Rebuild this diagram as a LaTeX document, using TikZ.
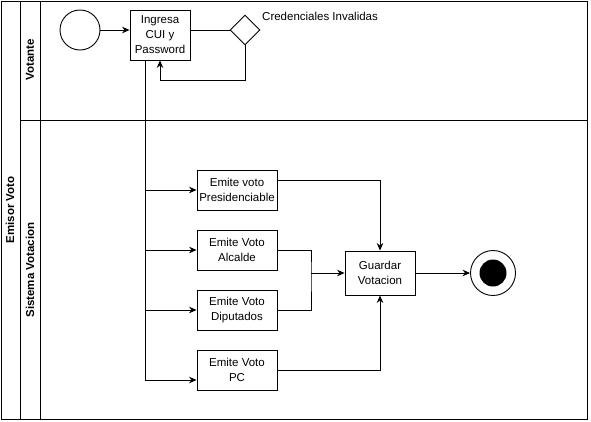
\documentclass[tikz,border=0pt]{standalone}
\usepackage{fontspec}
\setmainfont{Liberation Sans}
\usetikzlibrary{shapes.geometric,arrows.meta}

\tikzset{
  box/.style={draw,line width=0.9pt,minimum width=80pt,minimum height=40pt,align=center,inner sep=1pt,font=\fontsize{11.5}{15}\selectfont},
  flow/.style={line width=0.9pt,-{Stealth[length=7.5pt,width=6.5pt]}},
  wire/.style={line width=0.9pt},
  lanetext/.style={rotate=90,font=\bfseries\fontsize{11.5}{13.5}\selectfont}
}

\begin{document}
\begin{tikzpicture}[x=1pt,y=-1pt]
\useasboundingbox (0,0) rectangle (591,421);
% pool and lanes
\draw[wire] (1,1) rectangle (587,419);
\draw[wire] (20,1) -- (20,419);
\draw[wire] (40,1) -- (40,419);
\draw[wire] (20,120) -- (587,120);
\node[lanetext] (pool) at (10,210) {Emisor Voto};
\node[lanetext] (votante) at (30,60) {Votante};
\node[lanetext] (sistema) at (30,270) {Sistema Votacion};
% votante lane
\node[draw,wire,circle,minimum size=40pt] (start) at (80,30) {};
\node[box,minimum width=60pt,minimum height=50pt] (ingresa) at (160,35) {Ingresa\\CUI y\\Password};
\node[draw,wire,diamond,minimum width=30pt,minimum height=30pt,inner sep=0pt] (check) at (245,30) {};
\node[anchor=west,inner sep=0pt,font=\fontsize{11.5}{13.5}\selectfont] (invalid) at (262,16) {Credenciales Invalidas};
\draw[flow] (start.east) -- (start.east -| ingresa.west);
\draw[wire] (check.west -| ingresa.east) -- (check.west);
\draw[flow] (check.south) -- ++(0,35) -| (ingresa.south);
% sistema lane
\node[box] (pres) at (237,190) {Emite voto\\Presidenciable};
\node[box] (alc) at (237,250) {Emite Voto\\Alcalde};
\node[box] (dip) at (237,310) {Emite Voto\\Diputados};
\node[box] (pc) at (237,370) {Emite Voto\\PC};
\node[box,minimum width=70pt,minimum height=44pt] (guardar) at (380,273) {Guardar\\Votacion};
\node[draw,wire,circle,minimum size=45pt] (end) at (493,273) {};
\fill (end) circle (13.5pt);
\foreach \n in {pres,alc,dip}
  \draw[flow] ([xshift=-15pt]ingresa.south) |- (\n.west);
\draw[flow] ([xshift=-15pt]ingresa.south) |- ([yshift=-10pt]pc.west);
\coordinate (merge) at (311,273);
\draw[wire] (alc.east) -| (merge) |- (dip.east);
\draw[flow] (merge) -- (guardar.west);
\draw[flow] ([yshift=10pt]pres.east) -| (guardar.north);
\draw[flow] (pc.east) -| (guardar.south);
\draw[flow] (guardar.east) -- (end.west);
\end{tikzpicture}
\end{document}
